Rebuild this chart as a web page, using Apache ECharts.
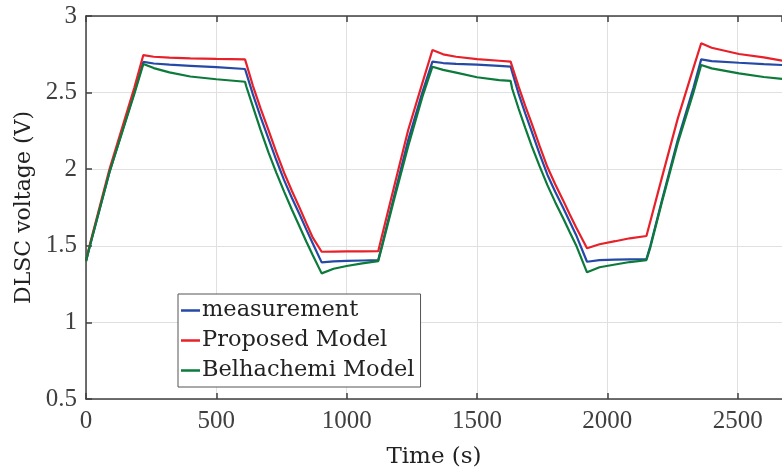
<!DOCTYPE html>
<html>
<head>
<meta charset="utf-8">
<script src="https://cdn.jsdelivr.net/npm/echarts@6/dist/echarts.min.js"></script>
<style>html,body{margin:0;padding:0;background:#fff}#c{width:782px;height:470px}</style>
</head>
<body>
<div id="c"></div>
<script>
// Time (s)
var timeS = [0, 15, 90, 185, 220, 260, 320, 400, 500, 610, 615, 640, 670, 700, 730, 760, 790, 820, 845, 870, 904, 950, 1000, 1060, 1121, 1135, 1180, 1236, 1290, 1329, 1370, 1420, 1500, 1585, 1629, 1635, 1660, 1685, 1710, 1740, 1770, 1800, 1830, 1855, 1880, 1922, 1970, 2030, 2086, 2150, 2165, 2210, 2270, 2330, 2360, 2400, 2505, 2600, 2670];
// measurement (V)
var measurement = [1.40, 1.50, 1.98, 2.50, 2.700, 2.690, 2.682, 2.675, 2.666, 2.654, 2.627, 2.490, 2.340, 2.199, 2.060, 1.929, 1.812, 1.703, 1.607, 1.515, 1.392, 1.398, 1.401, 1.404, 1.407, 1.50, 1.81, 2.19, 2.50, 2.702, 2.693, 2.688, 2.682, 2.674, 2.669, 2.634, 2.490, 2.365, 2.245, 2.100, 1.964, 1.853, 1.750, 1.660, 1.571, 1.396, 1.407, 1.410, 1.412, 1.414, 1.50, 1.80, 2.19, 2.53, 2.717, 2.706, 2.695, 2.686, 2.680];
// Proposed Model (V)
var proposed = [1.40, 1.51, 2.00, 2.53, 2.745, 2.734, 2.728, 2.724, 2.720, 2.717, 2.689, 2.546, 2.395, 2.255, 2.112, 1.977, 1.858, 1.746, 1.648, 1.553, 1.461, 1.462, 1.463, 1.464, 1.465, 1.562, 1.872, 2.256, 2.560, 2.778, 2.750, 2.734, 2.719, 2.708, 2.702, 2.670, 2.537, 2.414, 2.297, 2.152, 2.014, 1.902, 1.798, 1.708, 1.621, 1.484, 1.510, 1.530, 1.549, 1.564, 1.660, 1.950, 2.330, 2.660, 2.822, 2.793, 2.752, 2.730, 2.708];
// Belhachemi Model (V)
var belhachemi = [1.40, 1.50, 1.98, 2.49, 2.687, 2.660, 2.632, 2.605, 2.587, 2.571, 2.540, 2.410, 2.255, 2.110, 1.978, 1.854, 1.735, 1.623, 1.528, 1.438, 1.320, 1.350, 1.368, 1.385, 1.400, 1.49, 1.79, 2.15, 2.47, 2.669, 2.648, 2.630, 2.600, 2.582, 2.576, 2.525, 2.393, 2.270, 2.151, 2.020, 1.896, 1.785, 1.682, 1.592, 1.504, 1.327, 1.360, 1.378, 1.394, 1.407, 1.49, 1.79, 2.17, 2.50, 2.680, 2.658, 2.626, 2.602, 2.589];
var seriesNames = ['measurement', 'Proposed Model', 'Belhachemi Model'];
var seriesColors = ['#2449a6', '#e8202a', '#0b7a3a'];

function pairs(vals) { return timeS.map(function (t, i) { return [t, vals[i]]; }); }
var allVals = [measurement, proposed, belhachemi];

var chart = echarts.init(document.getElementById('c'), null, {renderer: 'canvas'});
var axisCol = '#404040';
var tickFont = 'Liberation Serif';
var textFont = 'DejaVu Serif';
chart.setOption({
  animation: false,
  backgroundColor: '#fff',
  grid: {left: 86, right: 0, top: 16, bottom: 71, containLabel: false, outerBoundsMode: 'none'},
  legend: {
    orient: 'vertical', left: 178, top: 294,
    data: seriesNames,
    backgroundColor: '#fff', borderColor: '#555', borderWidth: 1,
    padding: [5, 6, 5, 3], itemGap: 7, itemWidth: 19, itemHeight: 2.5,
    icon: 'rect',
    textStyle: {fontFamily: textFont, fontSize: 22.5, color: '#222', padding: [0, 0, 0, -3]}
  },
  xAxis: [{
    type: 'value', min: 0, max: 2670, interval: 500, position: 'bottom',
    name: 'Time (s)', nameLocation: 'middle', nameGap: 47,
    nameTextStyle: {fontFamily: textFont, fontSize: 23, color: '#222'},
    axisLine: {show: true, lineStyle: {color: axisCol, width: 1.5}},
    axisTick: {show: true, inside: true, length: 6, lineStyle: {color: axisCol, width: 1.5}},
    axisLabel: {fontFamily: tickFont, fontSize: 25, color: axisCol, margin: 10, showMaxLabel: false,
      formatter: function (v) { return String(v); }},
    splitLine: {show: true, lineStyle: {color: '#e0e0e0', width: 1}}
  }, {
    type: 'value', min: 0, max: 2670, interval: 500, position: 'top',
    axisLine: {show: true, onZero: false, lineStyle: {color: axisCol, width: 1.5}},
    axisTick: {show: true, inside: true, length: 6, lineStyle: {color: axisCol, width: 1.5}},
    axisLabel: {show: false}, splitLine: {show: false}
  }],
  yAxis: [{
    type: 'value', min: 0.5, max: 3, interval: 0.5,
    name: 'DLSC voltage (V)', nameLocation: 'middle', nameGap: 46, nameRotate: 90,
    nameTextStyle: {fontFamily: textFont, fontSize: 22, color: '#222'},
    axisLine: {show: true, onZero: false, lineStyle: {color: axisCol, width: 1.5}},
    axisTick: {show: true, inside: true, length: 6, lineStyle: {color: axisCol, width: 1.5}},
    axisLabel: {fontFamily: tickFont, fontSize: 25, color: axisCol, margin: 9,
      formatter: function (v) { return String(v); }},
    splitLine: {show: true, lineStyle: {color: '#e0e0e0', width: 1}}
  }],
  series: seriesNames.map(function (n, i) {
    return {
      name: n, type: 'line', xAxisIndex: 0, yAxisIndex: 0,
      data: pairs(allVals[i]), showSymbol: false, symbol: 'none',
      lineStyle: {color: seriesColors[i], width: 2.2},
      itemStyle: {color: seriesColors[i]},
      z: 2 + i
    };
  })
});
</script>
</body>
</html>
